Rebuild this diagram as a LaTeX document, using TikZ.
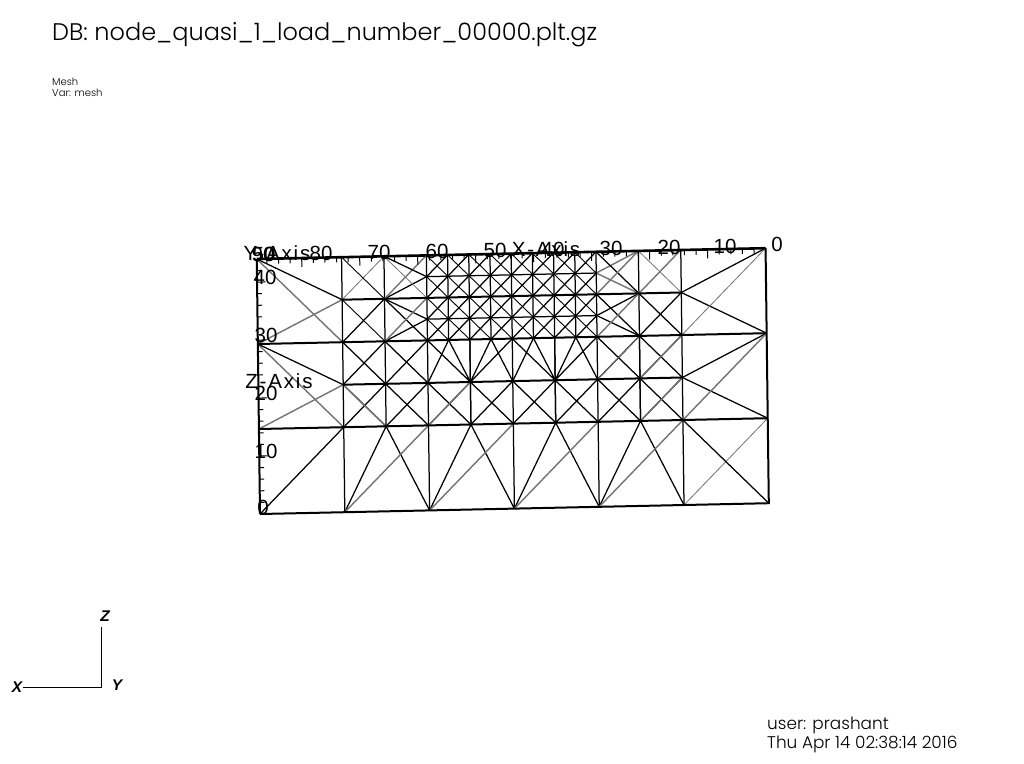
\documentclass[tikz,border=0pt]{standalone}
\usepackage{fontspec}
\setmainfont{Poppins Light}
\setsansfont{Liberation Sans}
\newfontfamily\axisfont[LetterSpace=9]{Liberation Sans}
\newfontfamily\triadfont[BoldItalicFont={Liberation Sans Bold Italic}]{Liberation Sans}
\usepackage{xcolor}
\definecolor{meshgray}{gray}{0.45}
\tikzset{
  meshblack/.style={black,line width=1.25pt},
  meshheavy/.style={black,line width=2pt},
  meshgrey/.style={meshgray,line width=1.4pt},
  meshthin/.style={meshgray,line width=0.8pt},
  axisnum/.style={font=\sffamily\fontsize{20.5}{20.5}\selectfont,inner sep=0pt},
  axistitle/.style={font=\axisfont\fontsize{20.5}{20.5}\selectfont,inner sep=0pt},
  triadtext/.style={font=\triadfont\itshape\bfseries\fontsize{15.5}{15.5}\selectfont,inner sep=0pt},
  infotext/.style={anchor=west,inner sep=0pt}
}
\begin{document}
\begin{tikzpicture}[x=1pt,y=1pt]
\useasboundingbox (0,0) rectangle (1024,-763);
\fill[white] (0,0) rectangle (1024,-763);

% captions
\node[infotext,font=\fontsize{24}{24}\selectfont] (title) at (52,-34.5) {DB: node\_quasi\_1\_load\_number\_00000.plt.gz};
\node[infotext,font=\fontsize{10}{10}\selectfont] (mesh) at (52,-82) {Mesh};
\node[infotext,font=\fontsize{10}{10}\selectfont] (var) at (52,-93) {Var: mesh};
\node[infotext,font=\fontsize{16.9}{16.9}\selectfont] (user) at (767,-725.5) {user: prashant};
\node[infotext,font=\fontsize{16.9}{16.9}\selectfont] (date) at (767,-744) {Thu Apr 14 02:38:14 2016};

% triad
\coordinate (o) at (101,-687);
\coordinate (zt) at (101,-627);
\coordinate (xt) at (23,-687);
\draw[black,line width=0.9pt] (zt) -- (o) -- (xt);
\node[triadtext] (zl) at (105,-616) {Z};
\node[triadtext] (xl) at (17,-687) {X};
\node[triadtext] (yl) at (117,-685) {Y};

% mesh: u along the width (0..12), v up the height (0..12)
\begin{scope}[shift={(260,-514)},x={(42.4pt,0.9pt)},y={(-0.27pt,21.25pt)}]
% fine part
\foreach \u in {4,4.5,...,7.5}
  \foreach \v in {8,9,10,11}
  {
    \draw[meshblack] (\u,\v) -- ({\u+0.5},{\v+1});
    \draw[meshblack,line width=0.9pt] (\u,{\v+1}) -- ({\u+0.5},\v);
  }
\foreach \u in {4.5,5,...,7.5}
  \draw[meshblack] (\u,8) -- (\u,12);
\draw[meshblack] (4,9) -- (8,9);
\draw[meshblack] (4,11) -- (8,11);
% fans under the fine part
\foreach \u in {5,7}
  \draw[meshblack] ({\u-1},8) -- (\u,6) -- ({\u+1},8)
                   ({\u-0.5},8) -- (\u,6) -- ({\u+0.5},8);
\foreach \u in {4,6,8}
{
  \ifnum\u>4 \draw[meshblack] ({\u-0.5},8) -- (\u,6); \fi
  \ifnum\u<8 \draw[meshblack] ({\u+0.5},8) -- (\u,6); \fi
}
\foreach \u in {4,5,6,7,8,9,10}
  \draw[meshblack] (\u,4) -- (\u,8);
% crossed cells
\foreach \u in {2,...,9}
{
  \draw[meshblack] (\u,4) -- ({\u+1},6);
  \draw[meshblack] (\u,6) -- ({\u+1},4);
}
\draw[meshgrey] (2,6) -- (3,4);
\draw[meshgrey] (4,4) -- (5,6);
\draw[meshgrey] (9,4) -- (10,6);
\foreach \u in {2,3,8,9}
{
  \draw[meshblack] (\u,6) -- ({\u+1},8);
  \draw[meshblack] (\u,8) -- ({\u+1},6);
}
\draw[meshthin] (8,6) -- (9,8);
\draw[meshgrey] (9,6) -- (10,8);
% bottom row
\draw[meshblack] (0,0) -- (2,4);
\foreach \u in {2,4,6,8}
{
  \draw[meshblack] (\u,0) -- (\u,4);
  \draw[meshblack] (\u,0) -- ({\u+1},4) -- ({\u+2},0);
  \draw[meshgrey] (\u,0) -- ({\u+2},4);
}
\draw[meshblack] (10,0) -- (10,4);
\draw[meshthin] (10,0) -- (12,4);
\draw[meshblack] (10,4) -- (12,0);
\foreach \u in {3,5,7,9}
  \draw[meshblack] (\u,4) -- (\u,8);
% left columns
\draw[meshgrey] (0,4) -- (2,6);
\draw[meshgrey] (0,8) -- (2,4);
\draw[meshblack] (0,8) -- (2,6);
\draw[meshgrey] (0,8) -- (2,10);
\draw[meshgrey] (0,12) -- (2,8);
\draw[meshblack] (0,12) -- (2,10);
\draw[meshblack] (2,4) -- (2,12);
\draw[meshblack] (3,8) -- (3,12);
\draw[meshblack] (2,8) -- (3,10);
\draw[meshblack,line width=0.9pt] (2,10) -- (3,8);
\draw[meshthin] (2,10) -- (3,12);
\draw[meshblack,line width=0.9pt] (2,12) -- (3,10);
\draw[meshblack] (3,10) -- (4,11);
\draw[meshblack] (3,10) -- (4,9);
\draw[meshgrey] (3,10) -- (4,12);
\draw[meshthin] (3,12) -- (4,10);
\draw[meshblack] (3,12) -- (4,11);
\draw[meshblack] (3,8) -- (4,9);
\draw[meshblack] (3,10) -- (4,8);
\draw[meshgrey] (3,8) -- (4,10);
\draw[meshblack] (4,8) -- (4,12);
% right columns
\draw[meshgrey] (8,11) -- (9,12);
\draw[meshgrey] (8,11) -- (9,10);
\draw[meshblack] (8,12) -- (9,10);
\draw[meshgrey] (8,10) -- (9,12);
\draw[meshblack] (8,9) -- (9,10);
\draw[meshblack] (8,9) -- (9,8);
\draw[meshblack] (8,10) -- (9,8);
\draw[meshgrey] (8,8) -- (9,10);
\draw[meshblack] (9,8) -- (9,12);
\draw[meshthin] (9,12) -- (10,10);
\draw[meshgrey] (9,10) -- (10,12);
\draw[meshblack] (9,10) -- (10,8);
\draw[meshblack] (9,8) -- (10,10);
\draw[meshblack] (8,8) -- (8,12);
\draw[meshblack] (10,8) -- (10,12);
\draw[meshblack] (10,10) -- (12,12);
\draw[meshblack] (10,10) -- (12,8);
\draw[meshthin] (10,8) -- (12,12);
\draw[meshblack] (10,6) -- (12,8);
\draw[meshblack] (10,6) -- (12,4);
\draw[meshgrey] (10,4) -- (12,8);
% horizontals
\draw[meshheavy] (0,4) -- (12,4);
\draw[meshheavy] (2,6) -- (10,6);
\draw[meshheavy] (0,8) -- (12,8);
\draw[meshheavy] (2,10) -- (10,10);
\draw[meshheavy] (0,0) -- (12,0) -- (12,12);
\draw[meshheavy,line width=2.6pt] (0,12) -- (12,12);
\draw[meshheavy] (0,0) -- (0,12);
% ticks
\foreach \k in {0,...,43}
{
  \pgfmathsetmacro{\tlen}{ifthenelse(mod(\k,5)==0,0.42,0.24)}
  \draw[meshblack,line width=1pt] ({12-\k*0.2735},12) -- ({12-\k*0.2735},{12-\tlen});
}
\foreach \k in {0,...,21}
{
  \pgfmathsetmacro{\tlen}{ifthenelse(mod(\k,5)==0,0.2,0.11)}
  \draw[meshblack,line width=1pt] (0,{\k*0.5456}) -- (\tlen,{\k*0.5456});
}
\end{scope}

% axis labels
\node[axisnum] (t0) at (777,-244) {0};
\node[axisnum] (t10) at (725,-246) {10};
\node[axisnum] (t20) at (669,-247) {20};
\node[axisnum] (t30) at (611,-248) {30};
\node[axisnum] (t40) at (553,-249) {40};
\node[axisnum] (t50) at (495,-250) {50};
\node[axisnum] (t60) at (437,-251) {60};
\node[axisnum] (t70) at (379,-252) {70};
\node[axisnum] (t80) at (321,-253) {80};
\node[axisnum] (t90) at (263,-254) {90};
\node[axistitle] (xaxis) at (546,-249) {X-Axis};
\node[axistitle] (yaxis) at (277,-253) {Y-Axis};
\node[axistitle] (zaxis) at (279,-381) {Z-Axis};
\node[axisnum] (l0) at (263,-507) {0};
\node[axisnum] (l10) at (266,-451) {10};
\node[axisnum] (l20) at (266,-393) {20};
\node[axisnum] (l30) at (266,-335) {30};
\node[axisnum] (l40) at (265,-277) {40};
\node[axisnum] (l50) at (264,-254) {50};
\end{tikzpicture}
\end{document}
